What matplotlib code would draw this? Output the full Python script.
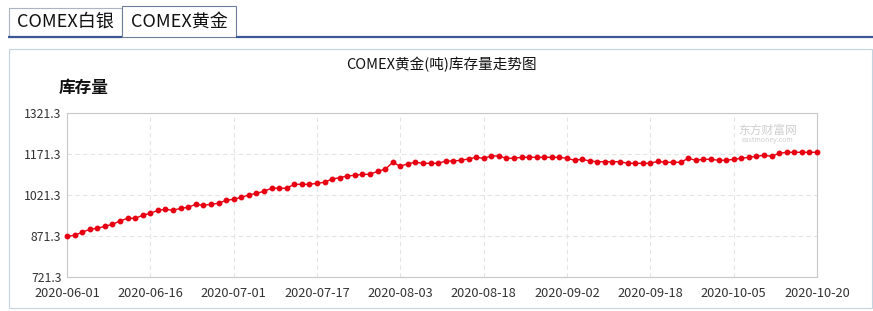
import pandas as pd
import matplotlib
matplotlib.use("Agg")
import matplotlib.pyplot as plt
from matplotlib.patches import Rectangle

plt.rcParams['font.family'] = ['Noto Sans CJK SC', 'DejaVu Sans']

# trading days (US holidays 07-03 and 09-07 skipped)
dates = pd.bdate_range("2020-06-01", "2020-10-20", freq="C",
                       holidays=["2020-07-03", "2020-09-07"]).strftime("%Y-%m-%d").tolist()

# COMEX gold stocks (tonnes)
stock = [870.2, 873.9, 884.8, 895.8, 899.5, 906.8, 914.1, 926.2, 936.1, 936.1,
         947.0, 954.4, 965.3, 969.0, 965.3, 972.6, 976.3, 987.3, 983.6, 987.3,
         990.9, 1001.9, 1005.6, 1012.9, 1021.3, 1027.5, 1034.8, 1046.2, 1046.2, 1046.2,
         1060.4, 1060.4, 1060.4, 1064.1, 1067.8, 1079.8, 1084.6, 1090.8, 1093.4, 1097.0,
         1097.0, 1108.0, 1115.3, 1140.9, 1126.3, 1135.8, 1140.9, 1137.3, 1137.3, 1137.3,
         1145.7, 1145.7, 1148.3, 1153.0, 1159.2, 1155.6, 1164.0, 1164.0, 1155.6, 1155.6,
         1159.2, 1159.2, 1159.2, 1159.2, 1159.2, 1159.2, 1155.6, 1148.3, 1152.0, 1145.7,
         1143.1, 1143.1, 1143.1, 1143.1, 1137.3, 1137.3, 1137.3, 1137.3, 1144.6, 1140.9,
         1140.9, 1140.9, 1155.6, 1148.3, 1152.0, 1152.0, 1148.3, 1148.3, 1152.0, 1155.6,
         1159.2, 1162.9, 1166.5, 1162.9, 1173.9, 1177.5, 1177.5, 1177.5, 1177.5, 1177.5]

tick_labels = ["2020-06-01", "2020-06-16", "2020-07-01", "2020-07-17", "2020-08-03",
               "2020-08-18", "2020-09-02", "2020-09-18", "2020-10-05", "2020-10-20"]
yticks = [721.3, 871.3, 1021.3, 1171.3, 1321.3]
tabs = ["COMEX白银", "COMEX黄金"]

W, H = 873, 311
fig = plt.figure(figsize=(W / 100, H / 100), dpi=100)
fig.patch.set_facecolor("white")

# page decorations in pixel coordinates
bg = fig.add_axes([0, 0, 1, 1])
bg.set_xlim(0, W)
bg.set_ylim(H, 0)
bg.axis("off")

bg.add_patch(Rectangle((8.5, 7.5), 113.5, 29.5, fc="white", ec="#aab4c2", lw=0.8))
bg.add_patch(Rectangle((122, 5.5), 114, 31.5, fc="white", ec="#6f7e98", lw=0.8))
bg.plot([8, 122], [37, 37], color="#3b5896", lw=1.6, solid_capstyle="butt")
bg.plot([236, 873], [37, 37], color="#3b5896", lw=1.6, solid_capstyle="butt")
bg.text(65, 22, tabs[0], ha="center", va="center", fontsize=13, color="#111")
bg.text(179, 21.5, tabs[1], ha="center", va="center", fontsize=13, color="#111")

bg.add_patch(Rectangle((8.5, 48.5), 863, 259, fc="white", ec="#c5d3df", lw=0.8))
bg.text(441, 65, "COMEX黄金(吨)库存量走势图", ha="center", va="center",
        fontsize=10.5, color="#111")
bg.text(84, 88, "库存量", ha="center", va="center", fontsize=12,
        fontweight="bold", color="#111")

# watermark
bg.text(768, 130, "东方财富网", ha="center", va="center", fontsize=8.5, color="#cfcfcf")
bg.text(767, 139.5, "eastmoney.com", ha="center", va="center", fontsize=5, color="#cfcfcf")

ax = fig.add_axes([67 / W, 1 - 277 / H, 750 / W, 164 / H])
ax.set_facecolor("none")
x = list(range(len(stock)))
ax.plot(x, stock, color="#e60012", lw=1, marker="o", ms=3.2, clip_on=False, zorder=3)

ax.set_xlim(0, len(stock) - 1)
ax.set_ylim(yticks[0], yticks[-1])
ax.set_yticks(yticks)
ax.set_yticklabels([f"{v:.1f}" for v in yticks])
ax.set_xticks([dates.index(d) for d in tick_labels])
ax.set_xticklabels(tick_labels)

ax.grid(True, linestyle=(0, (4, 3)), color="#e4e4e4", lw=0.8)
for s in ax.spines.values():
    s.set_color("#c8c8c8")
    s.set_linewidth(0.8)
ax.tick_params(axis="both", length=0, colors="#333")
ax.tick_params(axis="y", pad=4, labelsize=8.8)
ax.tick_params(axis="x", pad=7, labelsize=9.2)

fig.savefig("out.png", dpi=100)
